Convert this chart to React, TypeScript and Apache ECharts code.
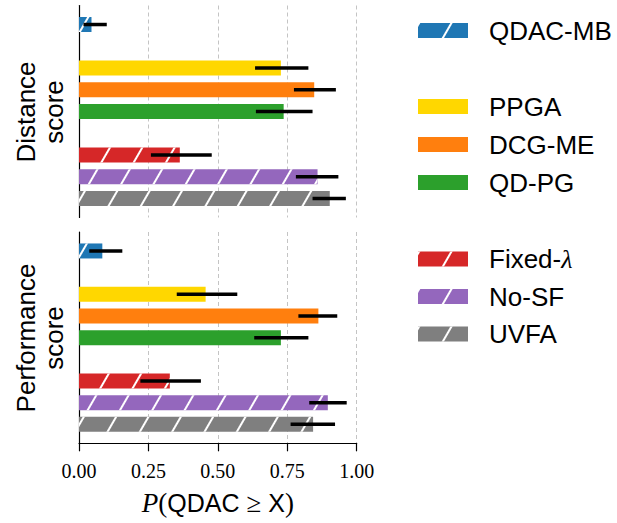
import React, { useEffect, useRef } from 'react';
import * as echarts from 'echarts';

// ---------- data ----------
const methods = ['QDAC-MB', 'PPGA', 'DCG-ME', 'QD-PG', 'Fixed-λ', 'No-SF', 'UVFA'];
const slots = [0, 2, 3, 4, 6, 7, 8];
const colors = ['#1f77b4', '#ffd700', '#ff7f0e', '#2ca02c', '#d62728', '#9467bd', '#7f7f7f'];
const hatched = [true, false, false, false, true, true, true];

const distanceMean = [0.045, 0.727, 0.847, 0.737, 0.363, 0.859, 0.903];
const distanceLow = [0.016, 0.634, 0.774, 0.637, 0.259, 0.781, 0.841];
const distanceHigh = [0.1, 0.826, 0.925, 0.841, 0.478, 0.934, 0.961];

const performanceMean = [0.084, 0.456, 0.862, 0.727, 0.327, 0.896, 0.843];
const performanceLow = [0.037, 0.352, 0.79, 0.631, 0.221, 0.829, 0.762];
const performanceHigh = [0.156, 0.57, 0.93, 0.826, 0.439, 0.964, 0.922];

const panelLabels = ['Distance\nscore', 'Performance\nscore'];
const xTickMin = 0;
const xTickMax = 1;
const xTickStep = 0.25;

// ---------- layout helpers ----------
const ROW_OFFSET = 3;
const ROWS_PER_SLOT = 4;
const N_ROWS = 39;
const rowOf = (slot: number) => ROW_OFFSET + ROWS_PER_SLOT * slot;

const SANS = 'Liberation Sans, Arial, Helvetica, sans-serif';
const SERIF = 'Liberation Serif, Times New Roman, serif';

const decalOpt = {
  symbol: 'rect',
  symbolSize: 1,
  color: '#ffffff',
  dashArrayX: [1, 0],
  dashArrayY: [2, 26],
  rotation: -Math.PI / 3,
};

const legendCenters = [31, 107, 145, 183, 259.5, 297, 334.5];

export default function App() {
  const ref = useRef<HTMLDivElement>(null);

  useEffect(() => {
    if (!ref.current) return;
    const chart = echarts.init(ref.current, undefined, { renderer: 'svg' });

    const panels = [
      { mean: distanceMean, low: distanceLow, high: distanceHigh },
      { mean: performanceMean, low: performanceLow, high: performanceHigh },
    ];

    const series: any[] = [];
    panels.forEach((p, pi) => {
      methods.forEach((m, i) => {
        const data: (number | null)[] = new Array(N_ROWS).fill(null);
        data[rowOf(slots[i])] = p.mean[i];
        series.push({
          type: 'bar',
          name: m,
          xAxisIndex: pi,
          yAxisIndex: pi,
          data,
          barWidth: 15,
          barGap: '-100%',
          silent: true,
          itemStyle: hatched[i]
            ? { color: colors[i], decal: decalOpt }
            : { color: colors[i] },
        });
      });
      series.push({
        type: 'custom',
        xAxisIndex: pi,
        yAxisIndex: pi,
        silent: true,
        z: 10,
        encode: { x: [0, 1], y: 2 },
        data: methods.map((_, i) => [p.low[i], p.high[i], rowOf(slots[i])]),
        renderItem: (params: any, api: any) => {
          const a = api.coord([api.value(0), api.value(2)]);
          const b = api.coord([api.value(1), api.value(2)]);
          return {
            type: 'line',
            shape: { x1: a[0], y1: a[1], x2: b[0], y2: b[1] },
            style: { stroke: '#000', lineWidth: 3.5 },
          };
        },
      });
    });

    const rows = new Array(N_ROWS).fill('');

    const yAxisBase = {
      type: 'category',
      data: rows,
      inverse: true,
      axisLine: { show: true, lineStyle: { color: '#000', width: 1.2 } },
      axisTick: { show: false },
      axisLabel: { show: false },
      splitLine: { show: false },
    };

    const splitLine = {
      show: true,
      lineStyle: { color: '#c4c4c4', type: [4, 3], width: 1 },
    };

    const legends = methods.map((m, i) => ({
      data: [m],
      left: 418,
      top: legendCenters[i] - 13.5,
      padding: 0,
      orient: 'vertical',
      icon: 'rect',
      itemWidth: 50,
      itemHeight: 15,
      selectedMode: false,
      formatter: (name: string) =>
        name === 'Fixed-λ' ? 'Fixed-{l|λ}' : name,
      textStyle: {
        fontSize: 26,
        fontFamily: SANS,
        color: '#000',
        lineHeight: 15,
        padding: [0, 0, 0, 16],
        rich: {
          l: { fontSize: 26, fontFamily: SERIF, fontStyle: 'italic', color: '#000', lineHeight: 15 },
        },
      },
    }));

    chart.setOption({
      animation: false,
      backgroundColor: '#fff',
      grid: [
        { left: 79, top: 5.5, width: 277.7, height: 212 },
        { left: 79, top: 232, width: 277.7, height: 211.3 },
      ],
      xAxis: [
        {
          type: 'value',
          gridIndex: 0,
          min: xTickMin,
          max: xTickMax,
          interval: xTickStep,
          axisLine: { show: false },
          axisTick: { show: false },
          axisLabel: { show: false },
          splitLine,
        },
        {
          type: 'value',
          gridIndex: 1,
          min: xTickMin,
          max: xTickMax,
          interval: xTickStep,
          axisLine: { show: true, lineStyle: { color: '#000', width: 1.2 } },
          axisTick: { show: true, length: 8, lineStyle: { color: '#000', width: 1.2 } },
          axisLabel: {
            show: true,
            margin: 18,
            fontSize: 20,
            fontFamily: SERIF,
            color: '#000',
            formatter: (v: number) => v.toFixed(2),
          },
          splitLine,
          name: '{p|P}{m|(}{s|QDAC }{m|≥}{s| X}{m|)}',
          nameLocation: 'middle',
          nameGap: 46,
          nameTextStyle: {
            rich: {
              p: { fontSize: 27, fontFamily: SERIF, fontStyle: 'italic', color: '#000' },
              m: { fontSize: 27, fontFamily: SERIF, color: '#000' },
              s: { fontSize: 25, fontFamily: SANS, color: '#000' },
            },
          },
        },
      ],
      yAxis: [
        { ...yAxisBase, gridIndex: 0 },
        { ...yAxisBase, gridIndex: 1 },
      ],
      legend: legends,
      graphic: [
        {
          type: 'text',
          x: 40,
          y: 112,
          rotation: Math.PI / 2,
          style: {
            text: panelLabels[0],
            fontSize: 26,
            fontFamily: SANS,
            fill: '#000',
            align: 'center',
            verticalAlign: 'middle',
            lineHeight: 28,
          },
        },
        {
          type: 'text',
          x: 40,
          y: 338,
          rotation: Math.PI / 2,
          style: {
            text: panelLabels[1],
            fontSize: 26,
            fontFamily: SANS,
            fill: '#000',
            align: 'center',
            verticalAlign: 'middle',
            lineHeight: 28,
          },
        },
      ],
      series,
    });

    return () => chart.dispose();
  }, []);

  return (
    <div
      ref={ref}
      style={{ position: 'absolute', left: 0, top: 0, width: 617, height: 523 }}
    />
  );
}
